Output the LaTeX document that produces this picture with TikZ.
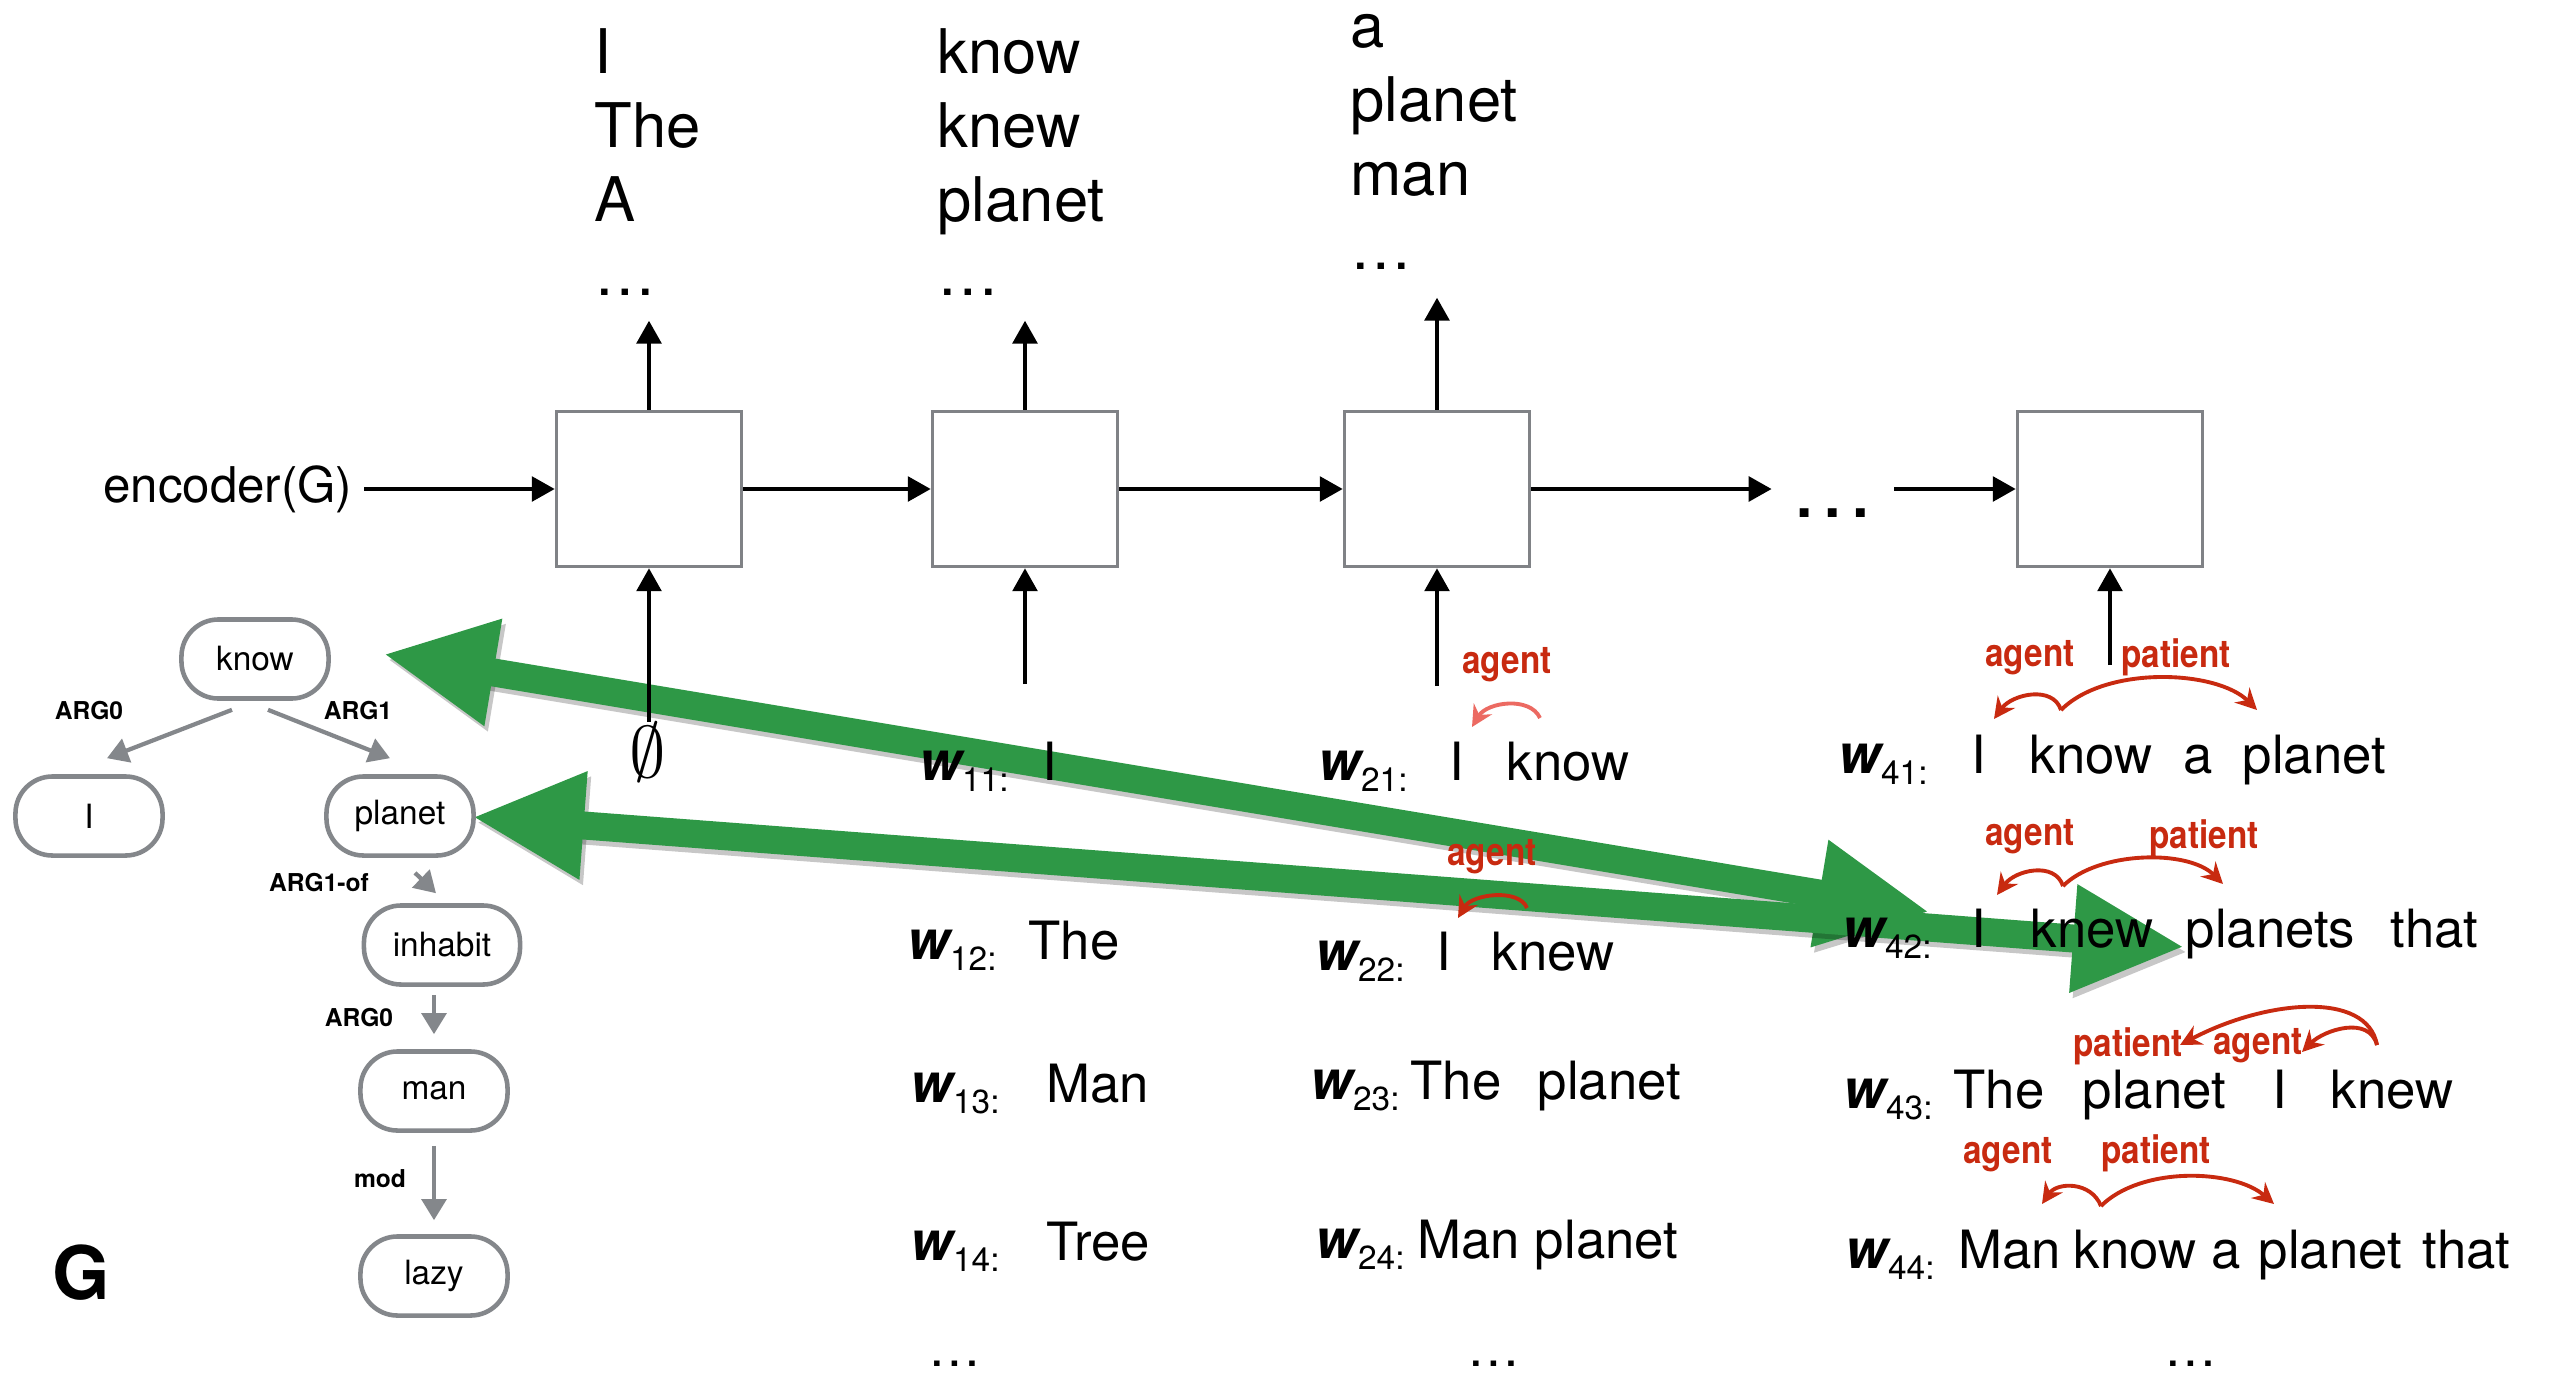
\documentclass[tikz,border=0pt]{standalone}
\usepackage{fontspec}
\setmainfont{TeX Gyre Heros}
\newfontfamily\tagfont[FakeStretch=0.86]{TeX Gyre Heros}
\usetikzlibrary{arrows.meta, calc, backgrounds}
\definecolor{cellGrey}{RGB}{128,130,134}
\definecolor{treeGrey}{RGB}{132,135,139}
\definecolor{arrowGreen}{RGB}{46,152,70}
\definecolor{tagRed}{RGB}{200,42,16}
\definecolor{tagSalmon}{RGB}{236,106,98}
\newcommand{\wl}[1]{{\fontsize{15.5}{16}\selectfont\bfseries\itshape w}\raisebox{-3.2pt}{\fontsize{9.5}{10}\selectfont #1:}}

\begin{document}
\begin{tikzpicture}[
    x=0.01cm, y=-0.01cm,
    word/.style={font=\fontsize{15}{18}\selectfont, inner sep=0pt, anchor=base west},
    outWord/.style={font=\fontsize{17.5}{21}\selectfont, inner sep=0pt, anchor=base west},
    cell/.style={draw=cellGrey, line width=1pt, minimum width=1.85cm, minimum height=1.55cm, inner sep=0pt},
    flow/.style={line width=1.1pt, -{Triangle[length=6.5pt,width=7pt]}},
    amr/.style={draw=treeGrey, line width=1.3pt, rounded corners=0.37cm, minimum width=1.47cm, minimum height=0.79cm, inner sep=0pt, font=\fontsize{9.5}{11}\selectfont},
    amrEdge/.style={draw=treeGrey, line width=1.2pt, -{Triangle[length=6pt,width=7pt]}},
    role/.style={font=\fontsize{7}{8}\selectfont\bfseries},
    tag/.style={font=\tagfont\fontsize{11}{12}\selectfont\bfseries, text=tagRed, inner sep=0pt},
    tagArc/.style={draw=tagRed, line width=1.1pt, -{Stealth[length=6pt,width=6pt,inset=2pt]}},
    bigArrow/.style={line width=0.28cm, draw=arrowGreen, {Triangle[length=1.12cm,width=1cm]}-{Triangle[length=1.12cm,width=1cm]}},
    arrowShade/.style={draw=black, opacity=0.22, transform canvas={xshift=1pt, yshift=-1.5pt}},
]
\useasboundingbox (0,0) rectangle (2550,1375);

% graph G
\node[amr] (know) at (255,659) {know};
\node[amr] (i) at (89,816) {I};
\node[amr] (planet) at (400,816) {planet};
\node[amr, minimum width=1.56cm] (inhabit) at (442,945) {inhabit};
\node[amr] (man) at (434,1091) {man};
\node[amr] (lazy) at (434,1276) {lazy};
\draw[amrEdge] ($(know.south)+(-23,9)$) -- ($(i.north)+(18,-16)$);
\draw[amrEdge] ($(know.south)+(13,9)$) -- ($(planet.north)+(-10,-16)$);
\draw[amrEdge] ($(planet.south)+(15,15)$) -- ($(inhabit.north)+(-6,-10)$);
\draw[amrEdge] ($(inhabit.south)+(-8,8)$) -- ($(man.north)+(0,-15)$);
\draw[amrEdge] ($(man.south)+(0,13)$) -- ($(lazy.north)+(0,-14)$);
\node[role] (r1) at (89,711) {ARG0};
\node[role] (r2) at (358,711) {ARG1};
\node[role] (r3) at (319,883) {ARG1-of};
\node[role] (r4) at (359,1018) {ARG0};
\node[role] (r5) at (380,1179) {mod};
\node[font=\fontsize{21}{24}\selectfont\bfseries] (gName) at (81,1273) {G};

% decoder cells
\node[cell] (cell1) at (649,489) {};
\node[cell] (cell2) at (1025,489) {};
\node[cell] (cell3) at (1437,489) {};
\node[cell] (cell4) at (2110,489) {};
\node[font=\fontsize{14}{16}\selectfont, anchor=east, inner sep=0pt] (enc) at (353,489) {encoder(G)};
\node[font=\fontsize{24}{26}\selectfont, inner xsep=0.185cm, inner ysep=0pt, anchor=base] (hdots) at (1833,517) {\ldots};
\draw[flow, shorten <=0.11cm] (enc) -- (cell1);
\draw[flow] (cell1) -- (cell2);
\draw[flow] (cell2) -- (cell3);
\draw[flow] (cell3) -- (cell3 -| hdots.west);
\draw[flow] (hdots.east |- cell4) -- (cell4);

% outputs
\node[outWord] (o11) at (594,73) {I};
\node[outWord] (o12) at (594,147) {The};
\node[outWord] (o13) at (594,221) {A};
\node[outWord] (o14) at (594,295) {\ldots};
\node[outWord] (o21) at (937,73) {know};
\node[outWord] (o22) at (937,147) {knew};
\node[outWord] (o23) at (937,221) {planet};
\node[outWord] (o24) at (937,295) {\ldots};
\node[outWord] (o31) at (1350,47) {a};
\node[outWord] (o32) at (1350,121) {planet};
\node[outWord] (o33) at (1350,195) {man};
\node[outWord] (o34) at (1350,269) {\ldots};
\draw[flow, shorten >=0.25cm] (cell1.north) -- (cell1.north |- o14.south);
\draw[flow, shorten >=0.25cm] (cell2.north) -- (cell2.north |- o24.south);
\draw[flow, shorten >=0.28cm] (cell3.north) -- (cell3.north |- o34.south);

% inputs
\node[font=\fontsize{20}{22}\selectfont, inner sep=0pt] (nil) at (648,752) {$\emptyset$};
\coordinate (feed2) at (1025,684);
\coordinate (feed3) at (1437,686);
\coordinate (feed4) at (2110,665);
\draw[flow] (cell1.south |- nil.north) -- (cell1.south);
\draw[flow] (feed2) -- (cell2.south);
\draw[flow] (feed3) -- (cell3.south);
\draw[flow] (feed4) -- (cell4.south);

% candidate words, first column
\node[word] (lab11) at (919,780) {\wl{11}};
\node[word] (s11) at (1042,780) {I};
\node[word] (lab12) at (907,959) {\wl{12}};
\node[word] (s12) at (1028,959) {The};
\node[word] (lab13) at (910,1102) {\wl{13}};
\node[word] (s13) at (1046,1102) {Man};
\node[word] (lab14) at (910,1260) {\wl{14}};
\node[word] (s14) at (1046,1260) {Tree};
\node[word, anchor=base] (dots1) at (955,1366) {\ldots};

% second column
\node[word] (lab21) at (1318,780) {\wl{21}};
\node[word] (I21) at (1449,780) {I};
\node[word] (know21) at (1506,780) {know};
\node[word] (lab22) at (1315,970) {\wl{22}};
\node[word] (I22) at (1436,970) {I};
\node[word] (knew22) at (1491,970) {knew};
\node[word] (lab23) at (1310,1099) {\wl{23}};
\node[word] (the23) at (1410,1099) {The};
\node[word] (planet23) at (1537,1099) {planet};
\node[word] (lab24) at (1315,1258) {\wl{24}};
\node[word] (s24) at (1417,1258) {Man planet};
\node[word, anchor=base] (dots2) at (1494,1366) {\ldots};

% last column
\node[word] (lab41) at (1838,773) {\wl{41}};
\node[word] (I41) at (1971,773) {I};
\node[word] (know41) at (2029,773) {know};
\node[word] (a41) at (2183,773) {a};
\node[word] (planet41) at (2242,773) {planet};
\node[word] (lab42) at (1842,947) {\wl{42}};
\node[word] (I42) at (1971,947) {I};
\node[word] (knew42) at (2030,947) {knew};
\node[word] (planets42) at (2185,947) {planets};
\node[word] (that42) at (2390,947) {that};
\node[word] (lab43) at (1843,1108) {\wl{43}};
\node[word] (the43) at (1953,1108) {The};
\node[word] (planet43) at (2082,1108) {planet};
\node[word] (I43) at (2272,1108) {I};
\node[word] (knew43) at (2330,1108) {knew};
\node[word] (lab44) at (1845,1268) {\wl{44}};
\node[word] (man44) at (1958,1268) {Man};
\node[word] (know44) at (2073,1268) {know};
\node[word] (a44) at (2211,1268) {a};
\node[word] (planet44) at (2258,1268) {planet};
\node[word] (that44) at (2422,1268) {that};
\node[word, anchor=base] (dots3) at (2191,1366) {\ldots};

% alignment arrows, under everything else
\begin{scope}[on background layer]
\fill[white] (0,0) rectangle (2550,1375);
\draw[bigArrow, arrowShade] ($(I42.base west)+(-41,-35)$) -- ($(know.east)+(52,-5)$);
\draw[bigArrow] ($(I42.base west)+(-41,-35)$) -- ($(know.east)+(52,-5)$);
\draw[bigArrow, arrowShade] (planets42.base west) -- ($(planet.east)+(-4,1)$);
\draw[bigArrow] (planets42.base west) -- ($(planet.east)+(-4,1)$);
\end{scope}

% role tags
\node[tag] (t21) at (1507,665) {agent};
\node[tag] (t22) at (1492,857) {agent};
\node[tag] (t41a) at (2030,658) {agent};
\node[tag] (t41p) at (2176,657) {patient};
\node[tag] (t42a) at (2030,837) {agent};
\node[tag] (t42p) at (2204,838) {patient};
\node[tag] (t43p) at (2128,1046) {patient};
\node[tag] (t43a) at (2258,1046) {agent};
\node[tag] (t44a) at (2008,1155) {agent};
\node[tag] (t44p) at (2156,1153) {patient};
\draw[tagArc, draw=tagSalmon] ($(know21.base west)+(34,-62)$) .. controls +(-10,-22) and +(15,-25) .. ($(I21.base west)+(23,-53)$);
\draw[tagArc] ($(knew22.base west)+(36,-62)$) .. controls +(-8,-20) and +(14,-24) .. ($(I22.base west)+(22,-52)$);
\draw[tagArc] ($(know41.base west)+(32,-63)$) .. controls +(-8,-25) and +(18,-25) .. ($(I41.base west)+(23,-54)$);
\draw[tagArc] ($(know41.base west)+(32,-63)$) .. controls +(45,-45) and +(-40,-40) .. ($(planet41.base west)+(15,-63)$);
\draw[tagArc] ($(knew42.base west)+(33,-61)$) .. controls +(-8,-25) and +(18,-25) .. ($(I42.base west)+(26,-52)$);
\draw[tagArc] ($(knew42.base west)+(33,-61)$) .. controls +(35,-35) and +(-35,-35) .. ($(planets42.base west)+(38,-63)$);
\draw[tagArc] ($(knew43.base west)+(47,-63)$) .. controls +(-10,-55) and +(85,-45) .. ($(planet43.base west)+(98,-63)$);
\draw[tagArc] ($(knew43.base west)+(47,-63)$) .. controls +(-8,-30) and +(22,-22) .. ($(I43.base west)+(30,-56)$);
\draw[tagArc] ($(know44.base west)+(28,-62)$) .. controls +(-10,-25) and +(15,-22) .. ($(man44.base west)+(84,-64)$);
\draw[tagArc] ($(know44.base west)+(28,-62)$) .. controls +(40,-40) and +(-40,-35) .. ($(planet44.base west)+(16,-64)$);
\end{tikzpicture}
\end{document}
